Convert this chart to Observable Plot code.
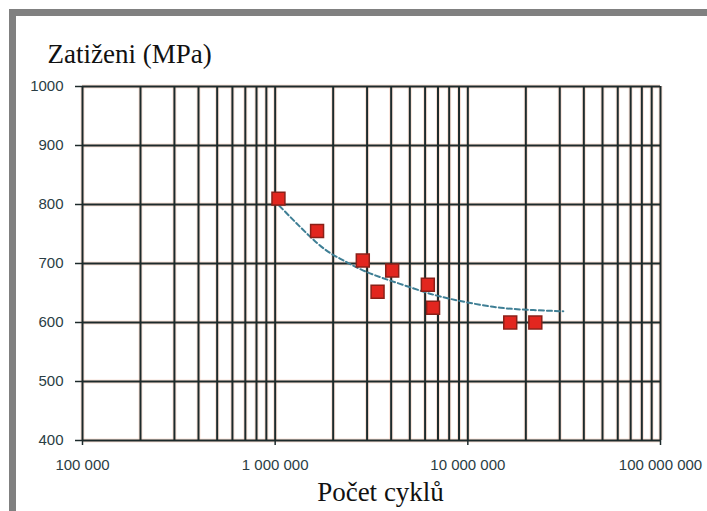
<!DOCTYPE html>
<html>
<head>
<meta charset="utf-8">
<script src="https://cdn.jsdelivr.net/npm/d3@7"></script>
<script src="https://cdn.jsdelivr.net/npm/@observablehq/plot@0.6"></script>
<style>
  html, body { margin: 0; padding: 0; background: #fff; }
  #wrap { position: relative; width: 707px; height: 511px; overflow: hidden; }
  #frame { position: absolute; left: 9px; top: 9px; width: 698px; height: 502px;
           border-top: 7px solid #808080; border-left: 7px solid #808080; box-sizing: border-box; pointer-events: none; }
  #chart { position: absolute; left: 0; top: 0; }
</style>
</head>
<body>
<div id="wrap"><div id="chart"></div><div id="frame"></div></div>
<script>
// Measured data (cycles, stress MPa)
const cycles = [1040000, 1650000, 2850000, 3400000, 4050000, 6200000, 6600000, 16600000, 22400000];
const stress = [810, 755, 705, 652, 688, 664, 625, 600, 600];

// Trendline
const trendX = [1050000, 1660000, 2180000, 2870000, 3960000, 5670000, 7200000, 9950000, 14800000, 21900000, 31300000];
const trendY = [798, 734, 708, 688, 671, 654, 644, 634, 625, 621, 619];

// Axis ticks / grid
const xGrid = [1e5,2e5,3e5,4e5,5e5,6e5,7e5,8e5,9e5,
               1e6,2e6,3e6,4e6,5e6,6e6,7e6,8e6,9e6,
               1e7,2e7,3e7,4e7,5e7,6e7,7e7,8e7,9e7,1e8];
const xTicks = [1e5, 1e6, 1e7, 1e8];
const xTickLabels = ["100 000", "1 000 000", "10 000 000", "100 000 000"];
const yTicks = [400, 500, 600, 700, 800, 900, 1000];

const points = cycles.map((c, i) => ({c, s: stress[i]}));
const trend = trendX.map((c, i) => ({c, s: trendY[i]}));

const gridColor = "#1d2a2b";
const labelColor = "#2a3d44";
const sans = "Liberation Sans, Arial, sans-serif";

const chart = Plot.plot({
  width: 707,
  height: 511,
  marginLeft: 82,
  marginRight: 47,
  marginTop: 86,
  marginBottom: 71,
  style: {fontFamily: sans, background: "#fff"},
  x: {type: "log", domain: [1e5, 1e8]},
  y: {domain: [400, 1000]},
  marks: [
    Plot.ruleX(xGrid, {y1: 400, y2: 1000, stroke: "#f6c7b4", strokeWidth: 4, strokeOpacity: 0.5}),
    Plot.ruleY(yTicks, {x1: 1e5, x2: 1e8, stroke: "#f6c7b4", strokeWidth: 4, strokeOpacity: 0.5}),
    Plot.ruleX(xGrid, {y1: 400, y2: 1000, stroke: gridColor, strokeWidth: 2}),
    Plot.ruleY(yTicks, {x1: 1e5, x2: 1e8, stroke: gridColor, strokeWidth: 2}),
    Plot.axisY(yTicks, {tickSize: 7, tickPadding: 12, label: null, stroke: gridColor, strokeWidth: 1.5,
      fill: labelColor, fontSize: 15, fontFamily: sans, tickFormat: d => String(d)}),
    Plot.axisX(xTicks, {tickSize: 5, tickPadding: 14, label: null, stroke: gridColor, strokeWidth: 1.5,
      fill: labelColor, fontSize: 15, fontFamily: sans,
      tickFormat: d => xTickLabels[xTicks.indexOf(d)]}),
    Plot.line(trend, {x: "c", y: "s", curve: "natural", stroke: "#3f7f95", strokeWidth: 2, strokeDasharray: "5,3"}),
    Plot.dot(points, {x: "c", y: "s", symbol: "square", r: 7.3, fill: "#e2261f", stroke: "#8a2018", strokeWidth: 1.5}),
    Plot.text(["Zatiženi (MPa)"], {frameAnchor: "top-left", textAnchor: "start", lineAnchor: "bottom", dx: -35, dy: -24,
      fontFamily: "Liberation Serif, Times New Roman, serif", fontSize: 27, fill: "#111"}),
    Plot.text(["Počet cyklů"], {frameAnchor: "bottom", textAnchor: "middle", lineAnchor: "bottom", dx: 9, dy: 60,
      fontFamily: "Liberation Serif, Times New Roman, serif", fontSize: 27, fill: "#111"})
  ]
});
document.getElementById("chart").appendChild(chart);
</script>
</body>
</html>
